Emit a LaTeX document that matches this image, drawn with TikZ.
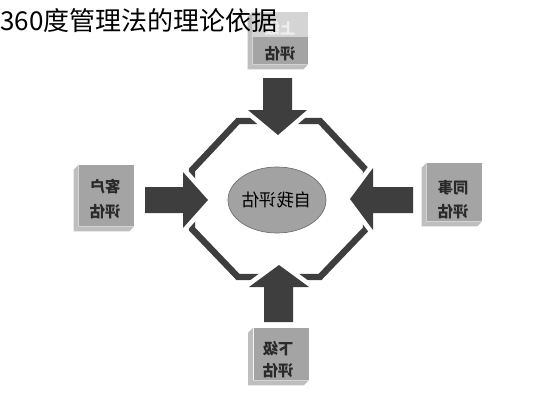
\documentclass[tikz,border=0pt]{standalone}
\usepackage{fontspec}
\newfontfamily\cjk{Noto Sans CJK SC}
\usetikzlibrary{shapes.geometric}
\definecolor{darkband}{HTML}{3E3E3E}
\definecolor{boxfront}{HTML}{A4A4A4}
\definecolor{boxside}{HTML}{BEBEBE}
\definecolor{boxlight}{HTML}{D4D4D4}
\definecolor{boxtext}{HTML}{2A2A2A}
\definecolor{fadetext}{HTML}{EEEEEE}
\definecolor{ellfill}{HTML}{A2A2A2}
\definecolor{ellline}{HTML}{6E6E6E}
\tikzset{
  front/.style={rectangle, fill=boxfront, inner sep=0pt, minimum width=41.25pt, minimum height=#1},
  sideface/.style={fill=boxside},
  boxlabel/.style={inner sep=0pt, text=boxtext, font=\cjk\bfseries\fontsize{11.5}{13}\selectfont},
  bigarrow/.style={fill=darkband, preaction={draw=white, line width=7pt, line join=miter}},
  band/.style={draw=darkband, line width=4.8pt, line join=miter},
}
\begin{document}
\begin{tikzpicture}[x=0.75pt,y=-0.75pt]
\useasboundingbox[fill=white] (0,0) rectangle (533,400);

% octagon band
\draw[band] (192,170) -- (238,121) -- (320,121) -- (366,170) -- (366,229) -- (320,277) -- (238,277) -- (192,229) -- cycle;

% arrows
\fill[bigarrow] (263,78) -- (292,78) -- (292,110) -- (307,110) -- (278,135) -- (248,110) -- (263,110) -- cycle;
\fill[bigarrow] (264,322) -- (293,322) -- (293,287) -- (309,287) -- (279,265) -- (249,287) -- (264,287) -- cycle;
\fill[bigarrow] (145,187) -- (183,187) -- (183,172) -- (208,200) -- (183,228) -- (183,213) -- (145,213) -- cycle;
\fill[bigarrow] (413,187) -- (373,187) -- (373,168) -- (350,199) -- (373,230) -- (373,213) -- (413,213) -- cycle;

% centre ellipse
\node[ellipse, fill=ellfill, draw=ellline, line width=0.5pt, minimum width=55pt, minimum height=49.5pt, inner sep=0pt,
      text=black, font=\cjk\fontsize{13}{15}\selectfont] (self) at (277,200) {\reflectbox{自我评估}};

% top box
\node[front=39pt] (topbox) at (280.5,38) {};
\fill[sideface] ([shift={(-5,5)}]topbox.north west) -- (topbox.north west) -- (topbox.south west) -- ([shift={(-5,5)}]topbox.south west) -- cycle;
\fill[boxside] ([shift={(-5,5)}]topbox.south west) -- (topbox.south west) -- (topbox.south east) -- ([shift={(-5,5)}]topbox.south east) -- cycle;
\fill[boxlight] (topbox.north west) rectangle ([yshift=1pt]topbox.east);
\node[boxlabel, text=fadetext] (toptxt1) at (280,29) {\reflectbox{上级}};
\node[boxlabel] (toptxt2) at (280,54) {\reflectbox{评估}};

% left box
\node[front=45.75pt] (leftbox) at (106.5,195.5) {};
\fill[sideface] ([shift={(-5,5)}]leftbox.north west) -- (leftbox.north west) -- (leftbox.south west) -- ([shift={(-5,5)}]leftbox.south west) -- cycle;
\fill[boxside] ([shift={(-5,5)}]leftbox.south west) -- (leftbox.south west) -- (leftbox.south east) -- ([shift={(-5,5)}]leftbox.south east) -- cycle;
\node[boxlabel] (lefttxt1) at (105,187) {\reflectbox{客户}};
\node[boxlabel] (lefttxt2) at (105,212) {\reflectbox{评估}};

% right box
\node[front=43.5pt] (rightbox) at (454.5,192) {};
\fill[sideface] ([shift={(-5,5)}]rightbox.north west) -- (rightbox.north west) -- (rightbox.south west) -- ([shift={(-5,5)}]rightbox.south west) -- cycle;
\fill[boxside] ([shift={(-5,5)}]rightbox.south west) -- (rightbox.south west) -- (rightbox.south east) -- ([shift={(-5,5)}]rightbox.south east) -- cycle;
\node[boxlabel] (righttxt1) at (453,188) {\reflectbox{同事}};
\node[boxlabel] (righttxt2) at (453,212) {\reflectbox{评估}};

% bottom box
\node[front=39pt] (botbox) at (281,354) {};
\fill[sideface] ([shift={(-5,5)}]botbox.north west) -- (botbox.north west) -- (botbox.south west) -- ([shift={(-5,5)}]botbox.south west) -- cycle;
\fill[boxside] ([shift={(-5,5)}]botbox.south west) -- (botbox.south west) -- (botbox.south east) -- ([shift={(-5,5)}]botbox.south east) -- cycle;
\node[boxlabel] (bottxt1) at (278,349) {\reflectbox{下级}};
\node[boxlabel] (bottxt2) at (278,371) {\reflectbox{评估}};

% title
\node[anchor=west, inner sep=0pt, font=\cjk\fontsize{19.5}{22}\selectfont, text=black] (title) at (0,21) {360度管理法的理论依据};
\end{tikzpicture}
\end{document}
